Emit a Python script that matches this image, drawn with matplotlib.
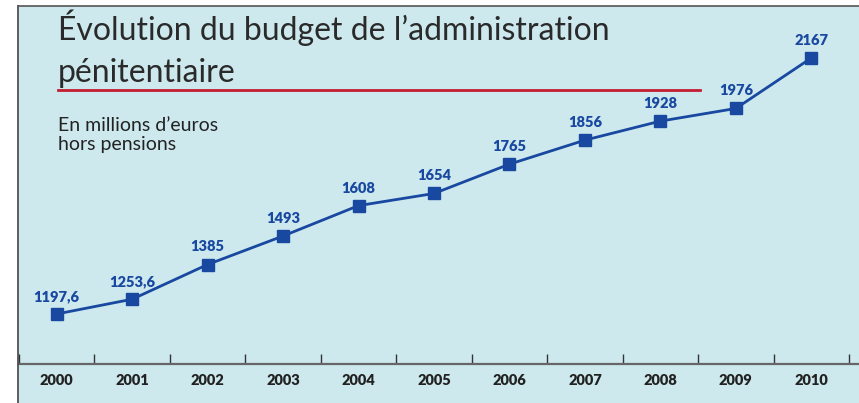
import matplotlib
matplotlib.use('Agg')
import matplotlib.pyplot as plt
from matplotlib.patches import Rectangle
from matplotlib.lines import Line2D

years = ['2000', '2001', '2002', '2003', '2004', '2005', '2006', '2007', '2008', '2009', '2010']
budget = [1197.6, 1253.6, 1385, 1493, 1608, 1654, 1765, 1856, 1928, 1976, 2167]
labels = ['1197,6', '1253,6', '1385', '1493', '1608', '1654', '1765', '1856', '1928', '1976', '2167']

W, H = 859, 403
bg = '#cde9ee'
blue = '#1848a0'

fig = plt.figure(figsize=(W / 100, H / 100), dpi=100)
fig.patch.set_facecolor('white')

def fx(px):
    return px / W

def fy(py):
    return 1 - py / H

# blue panel + dark border on left/top
fig.patches.append(Rectangle((fx(18), 0), 1 - fx(18), fy(6), transform=fig.transFigure,
                             facecolor=bg, edgecolor='none', zorder=-5))
fig.lines.append(Line2D([fx(18), fx(18)], [0, fy(6)], transform=fig.transFigure, color='#444444', lw=1.2))
fig.lines.append(Line2D([fx(18), 1], [fy(6), fy(6)], transform=fig.transFigure, color='#555555', lw=1.2))

# axes: x-axis line at y=364 px, ticks every 75.45 px from x=19
ax = fig.add_axes([fx(19), fy(364), fx(859 - 19), fy(6) - fy(364)])
ax.set_facecolor('none')
ax.set_zorder(2)
x = list(range(len(years)))
ax.plot(x, budget, color=blue, lw=2, marker='s', markersize=8.5, markerfacecolor=blue,
        markeredgecolor=blue, zorder=3, clip_on=False)
for xi, v, lab in zip(x, budget, labels):
    ax.annotate(lab, (xi, v), xytext=(0, 8), textcoords='offset points', ha='center', va='bottom',
                fontsize=10.5, fontweight='heavy', color=blue, family=['Lato', 'DejaVu Sans'])

ax.set_xlim(-0.5, 10.5 + 10 / 75.45)
ax.set_ylim(1008.2, 2364.0)
for s in ['left', 'right', 'top']:
    ax.spines[s].set_visible(False)
ax.spines['bottom'].set_color('#666666')
ax.spines['bottom'].set_linewidth(1.6)
ax.set_yticks([])
ax.set_xticks([i - 0.5 for i in range(len(years) + 1)])
ax.set_xticklabels([])
ax.tick_params(axis='x', which='major', direction='in', length=7, width=1, color='#333333')
ax.set_xticks(x, minor=True)
ax.set_xticklabels(years, minor=True, fontsize=10.5, fontweight='heavy', color='#222222',
                   family=['Lato', 'DejaVu Sans'])
ax.tick_params(axis='x', which='minor', length=0, pad=7)

# title
fig.text(fx(58), fy(40), "Évolution du budget de l\u2019administration", fontsize=23, color='#2a2a2a',
         family=['Lato', 'DejaVu Sans'], va='baseline')
fig.text(fx(58), fy(82), "pénitentiaire", fontsize=23, color='#2a2a2a',
         family=['Lato', 'DejaVu Sans'], va='baseline')
fig.lines.append(Line2D([fx(58), fx(700)], [fy(90), fy(90)], transform=fig.transFigure,
                        color='#c41e32', lw=2))
fig.text(fx(58), fy(131), "En millions d\u2019euros", fontsize=14, color='#222222',
         family=['Lato', 'DejaVu Sans'], va='baseline')
fig.text(fx(58), fy(150), "hors pensions", fontsize=14, color='#222222',
         family=['Lato', 'DejaVu Sans'], va='baseline')

fig.savefig('out.png', dpi=100, facecolor=fig.get_facecolor())
